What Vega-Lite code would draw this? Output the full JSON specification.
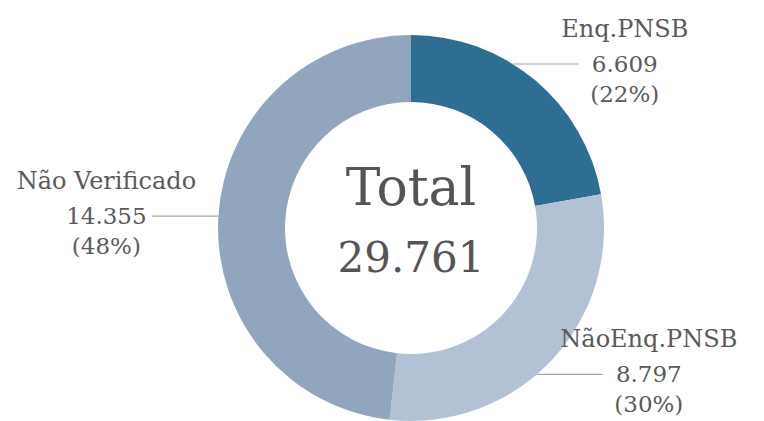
{
  "$schema": "https://vega.github.io/schema/vega-lite/v6.json",
  "width": 706,
  "height": 386,
  "autosize": {"type": "none"},
  "padding": {"left": 58, "top": 35, "right": 0, "bottom": 0},
  "background": "white",
  "config": {"view": {"stroke": null}},
  "data": {"values": [
    {"categoria": "Enq.PNSB", "valor": 6609, "ordem": 1},
    {"categoria": "NãoEnq.PNSB", "valor": 8797, "ordem": 2},
    {"categoria": "Não Verificado", "valor": 14355, "ordem": 3}
  ]},
  "transform": [
    {"joinaggregate": [{"op": "sum", "field": "valor", "as": "total"}]},
    {"window": [{"op": "sum", "field": "valor", "as": "acum"}], "sort": [{"field": "ordem"}], "frame": [null, 0]},
    {"calculate": "(datum.acum - datum.valor/2)/datum.total*2*PI", "as": "meio"},
    {"calculate": "sin(datum.meio) >= 0 ? 1 : -1", "as": "lado"},
    {"calculate": "214*cos(datum.meio)", "as": "ly"},
    {"calculate": "datum.lado*sqrt(193*193 - datum.ly*datum.ly)", "as": "lx0"},
    {"calculate": "datum.lx0 + datum.lado*66", "as": "lx1"},
    {"calculate": "datum.lx1 + datum.lado*46", "as": "tx"},
    {"calculate": "replace(format(datum.valor, ',d'), ',', '.')", "as": "valorTxt"},
    {"calculate": "'(' + format(datum.valor/datum.total, '.0%') + ')'", "as": "pctTxt"}
  ],
  "layer": [
    {
      "mark": {"type": "arc", "outerRadius": 193, "innerRadius": 126},
      "encoding": {
        "theta": {"field": "valor", "type": "quantitative", "stack": true},
        "order": {"field": "ordem", "type": "quantitative"},
        "color": {"field": "categoria", "type": "nominal", "legend": null,
          "scale": {"domain": ["Enq.PNSB", "NãoEnq.PNSB", "Não Verificado"], "range": ["#2e6e93", "#b3c1d4", "#91a6be"]}}
      }
    },
    {
      "mark": {"type": "rule", "color": "#a6a6a6", "strokeWidth": 1.2},
      "encoding": {
        "x": {"field": "lx0", "type": "quantitative", "axis": null, "scale": {"domain": [-353, 353], "nice": false, "zero": false}},
        "x2": {"field": "lx1"},
        "y": {"field": "ly", "type": "quantitative", "axis": null, "scale": {"domain": [-193, 193], "nice": false, "zero": false}}
      }
    },
    {
      "mark": {"type": "text", "font": "DejaVu Serif", "color": "#5a5a5a", "fontSize": 24, "align": "center", "baseline": "alphabetic", "dy": -27},
      "encoding": {
        "x": {"field": "tx", "type": "quantitative", "axis": null, "scale": {"domain": [-353, 353], "nice": false, "zero": false}},
        "y": {"field": "ly", "type": "quantitative", "axis": null, "scale": {"domain": [-193, 193], "nice": false, "zero": false}},
        "text": {"field": "categoria", "type": "nominal"}
      }
    },
    {
      "mark": {"type": "text", "font": "DejaVu Serif", "color": "#5a5a5a", "fontSize": 23, "align": "center", "baseline": "alphabetic", "dy": 8},
      "encoding": {
        "x": {"field": "tx", "type": "quantitative", "axis": null, "scale": {"domain": [-353, 353], "nice": false, "zero": false}},
        "y": {"field": "ly", "type": "quantitative", "axis": null, "scale": {"domain": [-193, 193], "nice": false, "zero": false}},
        "text": {"field": "valorTxt", "type": "nominal"}
      }
    },
    {
      "mark": {"type": "text", "font": "DejaVu Serif", "color": "#5a5a5a", "fontSize": 23, "align": "center", "baseline": "alphabetic", "dy": 38},
      "encoding": {
        "x": {"field": "tx", "type": "quantitative", "axis": null, "scale": {"domain": [-353, 353], "nice": false, "zero": false}},
        "y": {"field": "ly", "type": "quantitative", "axis": null, "scale": {"domain": [-193, 193], "nice": false, "zero": false}},
        "text": {"field": "pctTxt", "type": "nominal"}
      }
    },
    {
      "transform": [
        {"aggregate": [{"op": "sum", "field": "valor", "as": "soma"}]},
        {"calculate": "replace(format(datum.soma, ',d'), ',', '.')", "as": "somaTxt"}
      ],
      "layer": [
        {
          "mark": {"type": "text", "font": "DejaVu Serif", "color": "#555555", "fontSize": 52, "align": "center", "baseline": "alphabetic", "dy": -23},
          "encoding": {
            "x": {"datum": 0, "type": "quantitative", "axis": null, "scale": {"domain": [-353, 353], "nice": false, "zero": false}},
            "y": {"datum": 0, "type": "quantitative", "axis": null, "scale": {"domain": [-193, 193], "nice": false, "zero": false}},
            "text": {"value": "Total"}
          }
        },
        {
          "mark": {"type": "text", "font": "DejaVu Serif", "color": "#555555", "fontSize": 42, "align": "center", "baseline": "alphabetic", "dy": 44},
          "encoding": {
            "x": {"datum": 0, "type": "quantitative", "axis": null, "scale": {"domain": [-353, 353], "nice": false, "zero": false}},
            "y": {"datum": 0, "type": "quantitative", "axis": null, "scale": {"domain": [-193, 193], "nice": false, "zero": false}},
            "text": {"field": "somaTxt", "type": "nominal"}
          }
        }
      ]
    }
  ]
}
